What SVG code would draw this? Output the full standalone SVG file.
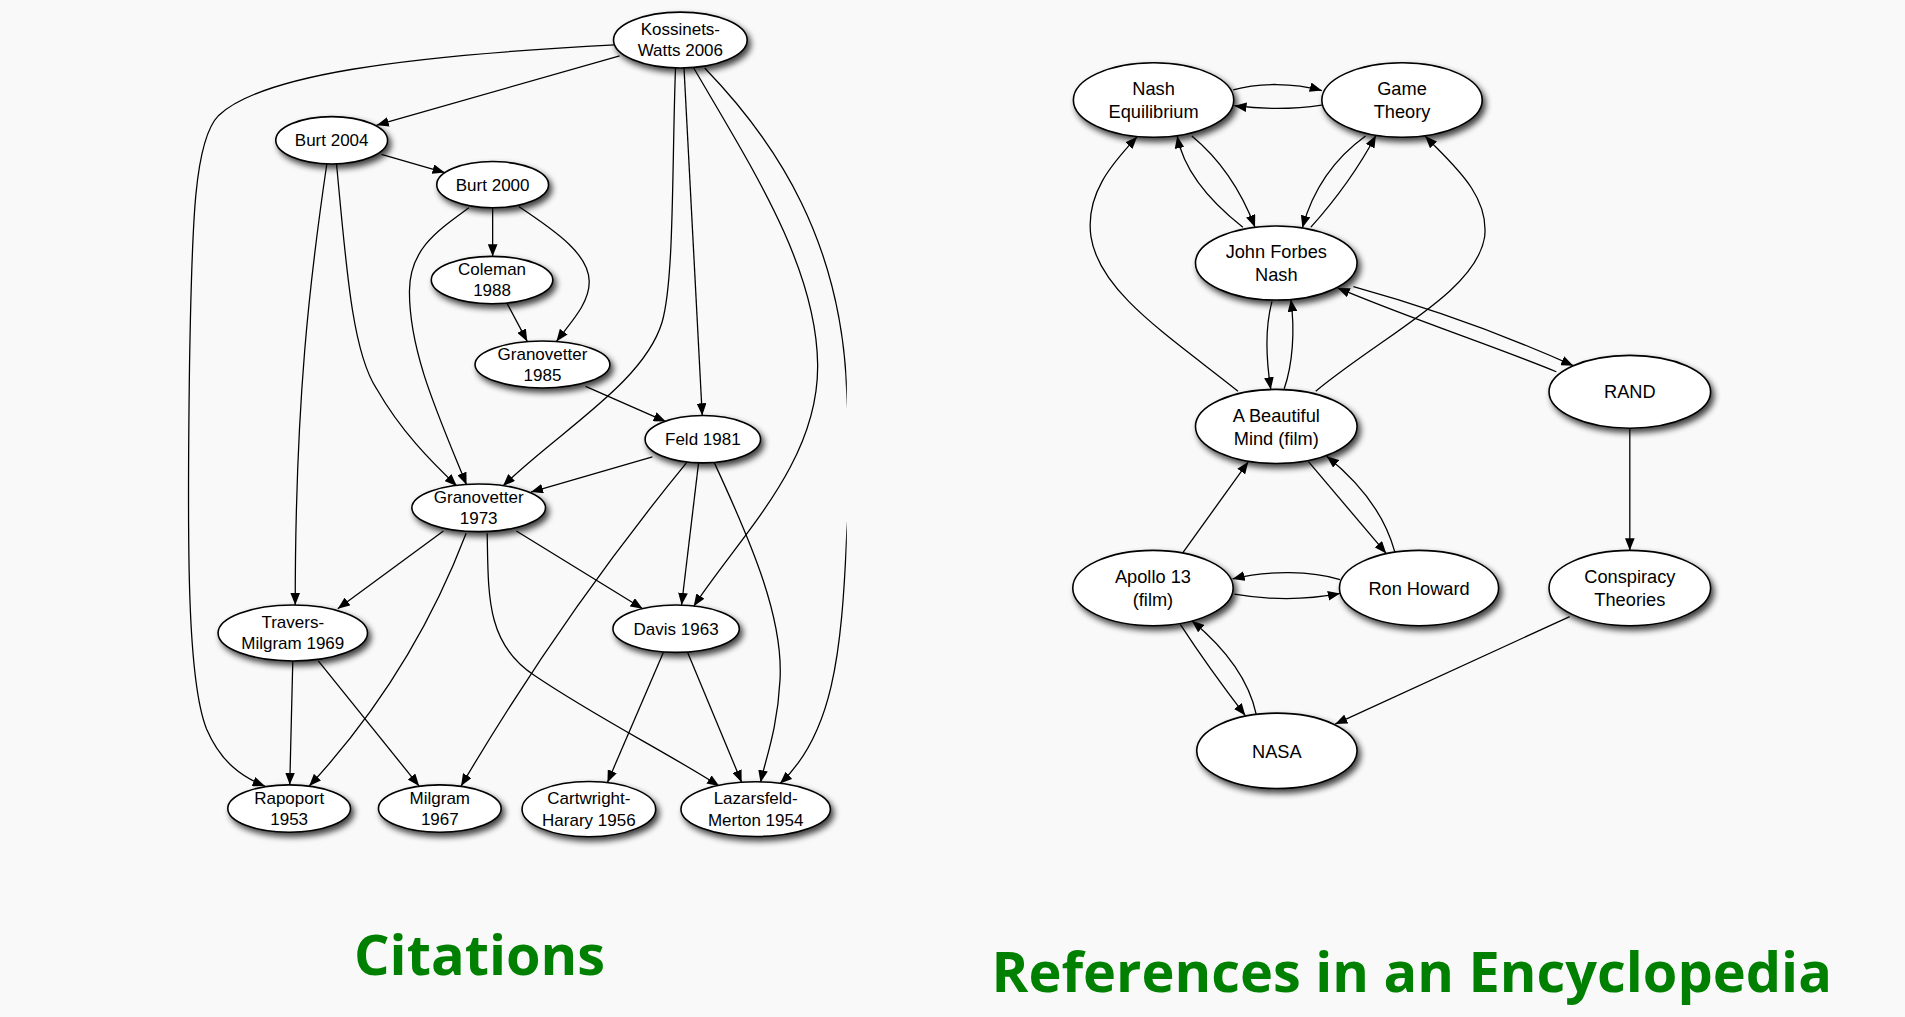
<svg xmlns="http://www.w3.org/2000/svg" width="1905" height="1017" viewBox="0 0 1905 1017">
<defs>
<style>
.n ellipse{fill:#fff;stroke:#000;stroke-width:1.3;filter:url(#sh)}
.n text{font-family:"Liberation Sans",Arial,sans-serif;font-size:14px;fill:#000;text-anchor:middle}
.r text{font-size:15px}
.e path{fill:none;stroke:#000;stroke-width:1.05;marker-end:url(#ah)}
.t{font-family:"Open Sans","Noto Sans",sans-serif;font-weight:700;font-size:46px;fill:#008000;text-anchor:middle}
</style>
<marker id="ah" viewBox="0 0 10 8" refX="10" refY="4" markerWidth="10" markerHeight="8" orient="auto" markerUnits="userSpaceOnUse">
<path d="M0,0 L10,4 L0,8 z" fill="#000"/>
</marker>
<filter id="sh" x="-25%" y="-30%" width="160%" height="180%">
<feGaussianBlur in="SourceAlpha" stdDeviation="2.6"/>
<feOffset dx="2.5" dy="3.5" result="o"/>
<feComponentTransfer><feFuncA type="linear" slope="0.75"/></feComponentTransfer>
<feMerge><feMergeNode/><feMergeNode in="SourceGraphic"/></feMerge>
</filter>
<clipPath id="cl"><rect x="0" y="0" width="697" height="837"/></clipPath>
</defs>
<rect width="1905" height="1017" fill="#f9f9f9"/>
<g transform="scale(1.21492)">
<g id="connectors" class="e">
<!-- Citations -->
<path d="M510,46 L310,103"/>
<path d="M506,37 C330,46 215,62 180,95 C160,115 158,180 156,300 C154,450 154,560 170,600 C182,628 200,640 218,647"/>
<path d="M556,56 C553,140 555,230 545,265 C530,315 460,355 414,400"/>
<path d="M563,56 L578,342"/>
<path d="M571,56 C620,140 672,220 673,300 C674,380 610,440 571,499"/>
<path clip-path="url(#cl)" d="M580,56 C640,118 693,200 697,323 C700,380 700,400 697,438 C693,540 685,605 642,645"/>
<path d="M314,127 L366,142"/>
<path d="M269,135 C255,230 243,330 243,498"/>
<path d="M277,135 C285,220 290,290 310,320 C330,355 355,380 376,400"/>
<path d="M405.5,171 L405.5,211"/>
<path d="M427,170 C460,192 485,210 485,232 C485,250 470,265 458,281"/>
<path d="M386,171 C360,190 337,205 337,240 C337,290 360,340 384,399"/>
<path d="M417,249 L434,281"/>
<path d="M482,318 L548,347"/>
<path d="M537,376 L437,405"/>
<path d="M575,381 L561,498"/>
<path d="M565,381 Q462,507 379.5,647"/>
<path d="M588,381 C620,450 645,510 642,560 C640,600 630,625 626,644"/>
<path d="M365,437 L278,501"/>
<path d="M425,437 L529,501"/>
<path d="M383.7,439 Q339,556 254.5,647"/>
<path d="M401,439 C402,490 400,530 440,556 C490,590 550,620 592,647"/>
<path d="M241,544 L238.5,646"/>
<path d="M262,544 L345,647"/>
<path d="M546,537 L500,644"/>
<path d="M566,537 L610.5,644"/>
<!-- Encyclopedia -->
<path d="M1015,74 C1035,68 1065,68 1088,74.5"/>
<path d="M1088,86.5 C1065,90 1040,90 1016,87"/>
<path d="M1023,187 Q976,150 969,112"/>
<path d="M981,112 Q1015,140 1033,187"/>
<path d="M1124,112 Q1085,140 1072,187.5"/>
<path d="M1079,187 Q1112,150 1132.5,111.5"/>
<path d="M1019,322 C960,275 905,240 898,195 C893,160 915,135 936,112.5"/>
<path d="M1083,322 C1140,275 1215,240 1222,195 C1226,160 1195,135 1173,112"/>
<path d="M1047,248 C1041,270 1042,295 1046,320.5"/>
<path d="M1057,320 C1064,300 1066,272 1062.5,246.5"/>
<path d="M1114,236 Q1208,262 1295,301"/>
<path d="M1281,306 C1230,285 1160,262 1101,237"/>
<path d="M1341.5,352 L1341.5,453"/>
<path d="M973.5,455 L1027.5,380"/>
<path d="M1077,380 L1141,455.5"/>
<path d="M1148,454 C1140,425 1120,398 1092,375.5"/>
<path d="M1103,477 C1080,470 1045,469 1014.5,476.5"/>
<path d="M1016,489 C1045,494 1075,494 1103,488.5"/>
<path d="M971.5,514 Q995,550 1025,589"/>
<path d="M1034,588 C1028,560 1010,535 981,511"/>
<path d="M1292,507.5 L1099,596"/>
</g>
<g class="n">
<g id="kossinets-watts-2006"><ellipse cx="560" cy="33" rx="55" ry="23"/><text x="560" y="29">Kossinets-</text><text x="560" y="46.5">Watts 2006</text></g>
<g id="burt-2004"><ellipse cx="273" cy="115.5" rx="46" ry="19.5"/><text x="273" y="120.5">Burt 2004</text></g>
<g id="burt-2000"><ellipse cx="405.5" cy="152" rx="46" ry="19"/><text x="405.5" y="157">Burt 2000</text></g>
<g id="coleman-1988"><ellipse cx="405" cy="230.5" rx="50" ry="19.5"/><text x="405" y="226.5">Coleman</text><text x="405" y="244">1988</text></g>
<g id="granovetter-1985"><ellipse cx="446.5" cy="300" rx="55.5" ry="19.3"/><text x="446.5" y="296">Granovetter</text><text x="446.5" y="313.5">1985</text></g>
<g id="feld-1981"><ellipse cx="578.5" cy="361.5" rx="47.5" ry="19.5"/><text x="578.5" y="366.5">Feld 1981</text></g>
<g id="granovetter-1973"><ellipse cx="394" cy="418" rx="55" ry="19.6"/><text x="394" y="414">Granovetter</text><text x="394" y="431.5">1973</text></g>
<g id="travers-milgram-1969"><ellipse cx="241" cy="521" rx="61.5" ry="23"/><text x="241" y="517">Travers-</text><text x="241" y="534.5">Milgram 1969</text></g>
<g id="davis-1963"><ellipse cx="556.5" cy="517.5" rx="52" ry="19.5"/><text x="556.5" y="522.5">Davis 1963</text></g>
<g id="rapoport-1953"><ellipse cx="238" cy="665.5" rx="50.5" ry="19.5"/><text x="238" y="661.5">Rapoport</text><text x="238" y="679">1953</text></g>
<g id="milgram-1967"><ellipse cx="362" cy="665.5" rx="50.5" ry="19.5"/><text x="362" y="661.5">Milgram</text><text x="362" y="679">1967</text></g>
<g id="cartwright-harary-1956"><ellipse cx="484.7" cy="666" rx="55" ry="22.7"/><text x="484.7" y="662">Cartwright-</text><text x="484.7" y="679.5">Harary 1956</text></g>
<g id="lazarsfeld-merton-1954"><ellipse cx="622" cy="666" rx="61.5" ry="22.5"/><text x="622" y="662">Lazarsfeld-</text><text x="622" y="679.5">Merton 1954</text></g>
</g>
<g class="n r">
<g id="nash-equilibrium"><ellipse cx="949.5" cy="82.3" rx="66" ry="30.7"/><text x="949.5" y="78.5">Nash</text><text x="949.5" y="97.5">Equilibrium</text></g>
<g id="game-theory"><ellipse cx="1154" cy="82.3" rx="66" ry="30.7"/><text x="1154" y="78.5">Game</text><text x="1154" y="97.5">Theory</text></g>
<g id="john-forbes-nash"><ellipse cx="1050.5" cy="216.5" rx="66.5" ry="30.5"/><text x="1050.5" y="212.5">John Forbes</text><text x="1050.5" y="231.5">Nash</text></g>
<g id="a-beautiful-mind"><ellipse cx="1050.5" cy="351" rx="66.5" ry="30.5"/><text x="1050.5" y="347">A Beautiful</text><text x="1050.5" y="366">Mind (film)</text></g>
<g id="rand"><ellipse cx="1341.5" cy="322.5" rx="66.5" ry="30"/><text x="1341.5" y="328">RAND</text></g>
<g id="apollo-13"><ellipse cx="949" cy="484" rx="66" ry="31"/><text x="949" y="480">Apollo 13</text><text x="949" y="499">(film)</text></g>
<g id="ron-howard"><ellipse cx="1168" cy="484" rx="65.5" ry="31"/><text x="1168" y="489.5">Ron Howard</text></g>
<g id="conspiracy-theories"><ellipse cx="1341.5" cy="484" rx="66.5" ry="31"/><text x="1341.5" y="480">Conspiracy</text><text x="1341.5" y="499">Theories</text></g>
<g id="nasa"><ellipse cx="1051" cy="618" rx="66" ry="31"/><text x="1051" y="623.5">NASA</text></g>
</g>
<text class="t" x="394.7" y="802.5">Citations</text>
<text class="t" x="1162" y="816.2">References in an Encyclopedia</text>
</g>
</svg>
